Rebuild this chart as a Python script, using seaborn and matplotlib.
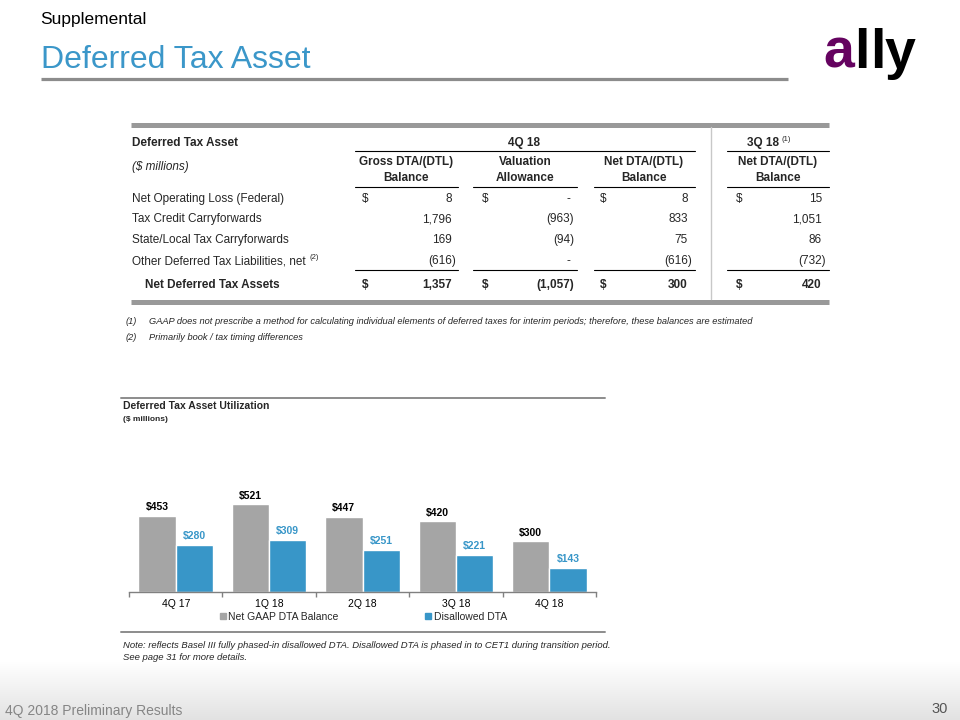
import numpy as np
import pandas as pd
import matplotlib
matplotlib.use("Agg")
import matplotlib.pyplot as plt
from matplotlib.lines import Line2D
import seaborn as sns

# ---------------- data ----------------
quarters = ["4Q 17", "1Q 18", "2Q 18", "3Q 18", "4Q 18"]
net_gaap_dta = [453, 521, 447, 420, 300]
disallowed_dta = [280, 309, 251, 221, 143]
series_names = ["Net GAAP DTA Balance", "Disallowed DTA"]

row_labels = ["Net Operating Loss (Federal)", "Tax Credit Carryforwards",
              "State/Local Tax Carryforwards", "Other Deferred Tax Liabilities, net"]
gross_4q = [8, 1796, 169, -616]
valuation_4q = [0, -963, -94, 0]
net_4q = [8, 833, 75, -616]
net_3q = [15, 1051, 86, -732]
totals = [1357, -1057, 300, 420]
col_headers = [("Gross DTA/(DTL)", "Balance"), ("Valuation", "Allowance"),
               ("Net DTA/(DTL)", "Balance"), ("Net DTA/(DTL)", "Balance")]

# ---------------- style ----------------
sns.set_theme(style="white")
plt.rcParams["font.family"] = ["Liberation Sans", "DejaVu Sans"]

GRAY_BAR = "#A5A5A5"
BLUE = "#3896C8"
TITLE_BLUE = "#3B97C9"
RULE = "#8C8C8C"

fig = plt.figure(figsize=(9.6, 7.2), dpi=100)
fig.patch.set_facecolor("white")

# overlay in pixel coordinates
ov = fig.add_axes([0, 0, 1, 1], zorder=0)
ov.set_xlim(0, 960)
ov.set_ylim(720, 0)
ov.axis("off")

# footer gradient band
grad = np.linspace(0, 1, 100).reshape(-1, 1)
ov.imshow(grad, extent=[0, 960, 720, 662], cmap=matplotlib.colors.LinearSegmentedColormap.from_list(
    "g", ["#FFFFFF", "#E2E2E2"]), aspect="auto", zorder=0)
ov.set_xlim(0, 960)
ov.set_ylim(720, 0)

# header
ov.text(40, 24, "Supplemental", fontsize=12.5, color="black", va="baseline", ha="left")
ov.text(41, 68, "Deferred Tax Asset", fontsize=23, color=TITLE_BLUE, va="baseline", ha="left")
ov.plot([41, 788], [79, 79], color=RULE, lw=2.3, solid_capstyle="butt")

# logo
ov.text(838.5, 68, "a", fontsize=40, fontweight="bold", color="#650360", ha="center", va="baseline")
ov.text(861.5, 68, "l", fontsize=40, fontweight="bold", color="black", ha="center", va="baseline")
ov.text(877.5, 68, "l", fontsize=40, fontweight="bold", color="black", ha="center", va="baseline")
ov.text(900, 68, "y", fontsize=40, fontweight="bold", color="black", ha="center", va="baseline")

# ---------------- table ----------------
TFS = 8.5
L, R = 131, 829
ov.plot([L, R], [124.5, 124.5], color="#999999", lw=3.6, solid_capstyle="butt")
ov.plot([L, R], [301.5, 301.5], color="#999999", lw=3.6, solid_capstyle="butt")
ov.plot([711, 711], [127, 299], color="#C8C8C8", lw=1)

ov.text(132, 143, "Deferred Tax Asset", fontsize=TFS, fontweight="bold", va="center")
ov.text(524, 143, "4Q 18", fontsize=TFS, fontweight="bold", va="center", ha="center")
q3 = ov.text(779, 143, "3Q 18", fontsize=TFS, fontweight="bold", va="center", ha="right")
ov.annotate("(1)", xy=(1, 0.5), xycoords=q3, xytext=(2, 2.5), textcoords="offset points",
            fontsize=5.5, va="center", ha="left")
ov.plot([355, 695], [151, 151], color="black", lw=0.8)
ov.plot([727, R], [151, 151], color="black", lw=0.8)
ov.text(132, 167, "($ millions)", fontsize=TFS, fontstyle="italic", va="center")

centers = [406, 525, 644, 778]
segments = [(355, 458), (473, 577), (594, 695), (727, R)]
for (h1, h2), cx in zip(col_headers, centers):
    ov.text(cx, 162, h1, fontsize=TFS, fontweight="bold", ha="center", va="center")
    ov.text(cx, 178, h2, fontsize=TFS, fontweight="bold", ha="center", va="center")
for a, b in segments:
    ov.plot([a, b], [187, 187], color="black", lw=0.8)
    ov.plot([a, b], [270, 270], color="black", lw=0.8)

dollar_x = [362, 482, 600, 736]
right_x = [452, 570, 688, 822]


def fmt(v):
    if v == 0:
        return "-"
    if v < 0:
        return f"({abs(v):,})"
    return f"{v:,}"


def put_value(x, y, v, bold=False):
    xx = x + 4 if v < 0 else x
    ov.text(xx, y, fmt(v), fontsize=TFS, ha="right", va="center",
            fontweight="bold" if bold else "normal")


row_y = [199, 219, 240, 261]
cols = [gross_4q, valuation_4q, net_4q, net_3q]
last_label = None
for i, (lab, y) in enumerate(zip(row_labels, row_y)):
    last_label = ov.text(132, y, lab, fontsize=TFS, va="center")
    for j, col in enumerate(cols):
        if i == 0:
            ov.text(dollar_x[j], y, "$", fontsize=TFS, va="center")
        put_value(right_x[j], y, col[i])
ov.annotate("(2)", xy=(1, 0.5), xycoords=last_label, xytext=(2.5, 2.5), textcoords="offset points",
            fontsize=5.5, va="center", ha="left")

ov.text(145, 285, "Net Deferred Tax Assets", fontsize=TFS, fontweight="bold", va="center")
for j, v in enumerate(totals):
    ov.text(dollar_x[j], 285, "$", fontsize=TFS, fontweight="bold", va="center")
    put_value(right_x[j], 285, v, bold=True)

# footnotes
FN = 6.7
ov.text(126, 321, "(1)", fontsize=FN, fontstyle="italic", va="center")
ov.text(149, 321, "GAAP does not prescribe a method for calculating individual elements of deferred taxes "
        "for interim periods; therefore, these balances are estimated", fontsize=FN,
        fontstyle="italic", va="center")
ov.text(126, 337, "(2)", fontsize=FN, fontstyle="italic", va="center")
ov.text(149, 337, "Primarily book / tax timing differences", fontsize=FN, fontstyle="italic", va="center")

# ---------------- chart ----------------
ov.plot([121, 605], [398, 398], color=RULE, lw=1.4)
ov.text(123, 406, "Deferred Tax Asset Utilization", fontsize=7.5, fontweight="bold", va="center")
ov.text(123, 419.5, "($ millions)", fontsize=6, fontweight="bold", va="center")
ov.plot([121, 605], [632, 632], color=RULE, lw=1.4)
ov.text(123, 645, "Note: reflects Basel III fully phased-in disallowed DTA. Disallowed DTA is phased in to "
        "CET1 during transition period.", fontsize=6.8, fontstyle="italic", va="center")
ov.text(123, 657.5, "See page 31 for more details.", fontsize=6.8, fontstyle="italic", va="center")

df = pd.DataFrame({
    "quarter": quarters * 2,
    "series": [series_names[0]] * len(quarters) + [series_names[1]] * len(quarters),
    "value": net_gaap_dta + disallowed_dta,
})

base_px = 591.7
px_per_unit = 0.168
ax_h_px = 120
ax = fig.add_axes([129 / 960, (720 - base_px) / 720, (596 - 129) / 960, ax_h_px / 720], zorder=2)
ax.patch.set_alpha(0)
sns.barplot(data=df, x="quarter", y="value", hue="series", order=quarters,
            hue_order=series_names, palette=[GRAY_BAR, BLUE], saturation=1,
            width=0.8, ax=ax, legend=False)
ax.set_xlim(-0.5, 4.5)
ax.set_ylim(0, ax_h_px / px_per_unit)
for cont, col in zip(ax.containers, ["black", BLUE]):
    ax.bar_label(cont, labels=[f"${v:,.0f}" for v in cont.datavalues], padding=2.5,
                 fontsize=7.5, fontweight="bold", color=col)
for s in ["top", "right", "left"]:
    ax.spines[s].set_visible(False)
ax.spines["bottom"].set_color("#808080")
ax.spines["bottom"].set_linewidth(1)
ax.set_yticks([])
ax.set_xlabel("")
ax.set_ylabel("")
ax.set_xticks(np.arange(-0.5, 5, 1), minor=True)
ax.tick_params(axis="x", which="minor", length=3.5, direction="out", color="#808080", width=1, bottom=True)
ax.tick_params(axis="x", which="major", length=0, pad=5, labelsize=7.5, bottom=False)
for t in ax.get_xticklabels():
    t.set_color("black")

handles = [Line2D([0], [0], marker="s", linestyle="none", markersize=4.5,
                  markerfacecolor=c, markeredgecolor=c) for c in [GRAY_BAR, BLUE]]
fig.legend(handles, series_names, loc="center left", bbox_to_anchor=(219 / 960, 1 - 617 / 720),
           ncol=2, frameon=False, fontsize=7.5, handletextpad=0.1, handlelength=0.8,
           columnspacing=8.2, borderpad=0, borderaxespad=0)

# footer
ov.text(5, 711, "4Q 2018 Preliminary Results", fontsize=10, color="#858585", va="center", ha="left")
ov.text(948, 709, "30", fontsize=10.5, color="#555555", va="center", ha="right")

fig.savefig("out.png", dpi=100)
